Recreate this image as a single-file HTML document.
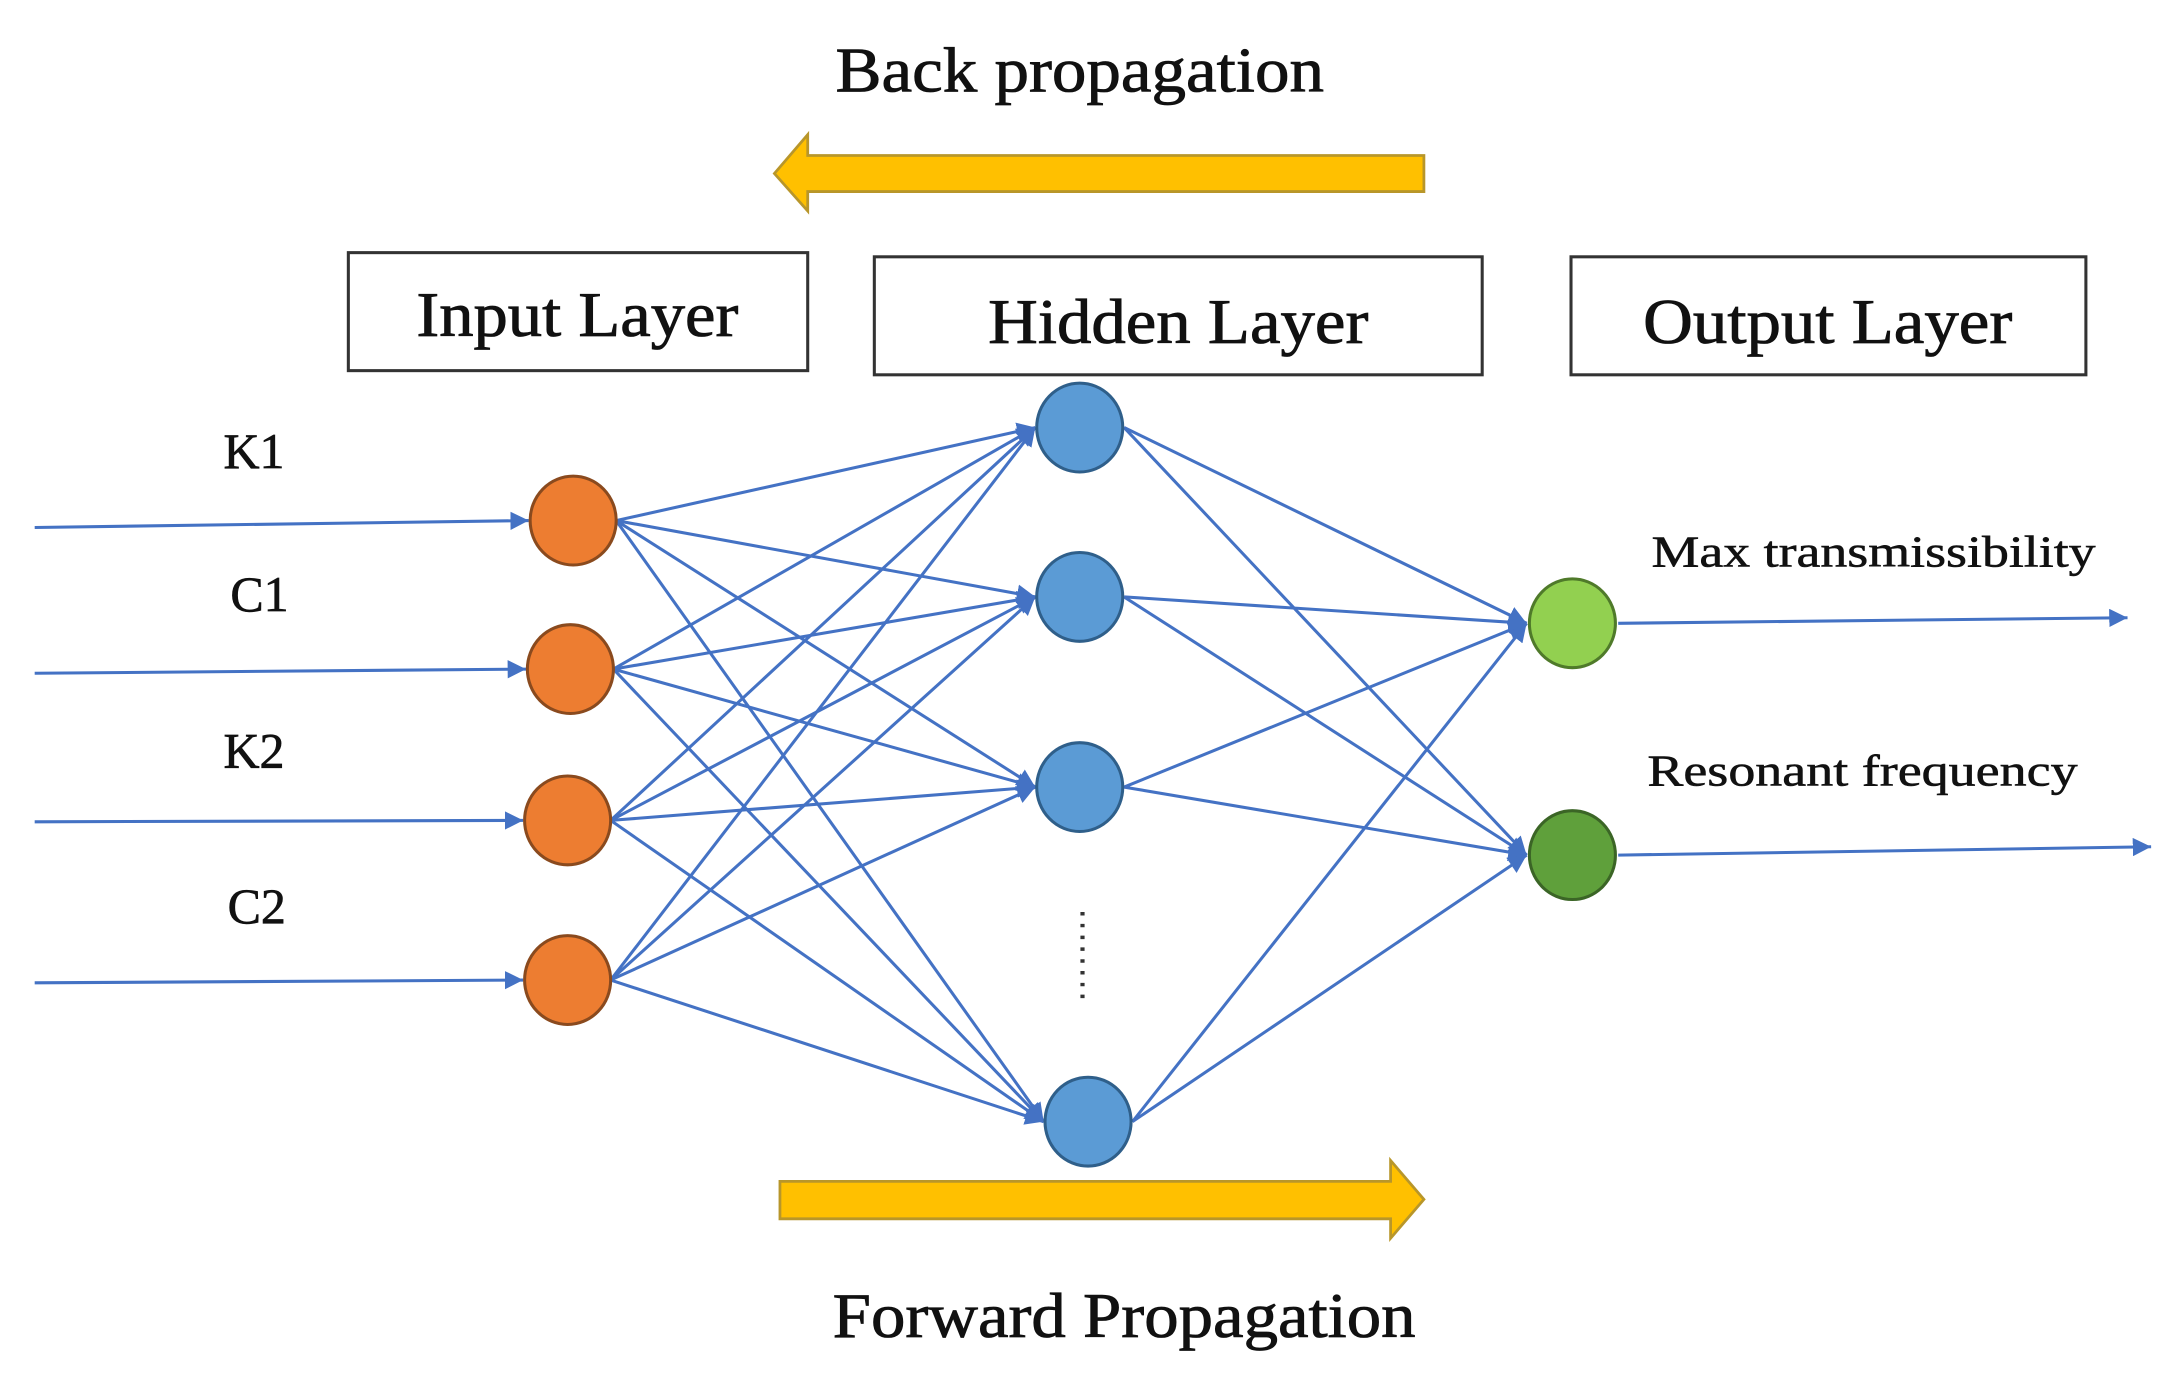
<!DOCTYPE html>
<html><head><style>html,body{margin:0;padding:0;background:#fff;overflow:hidden}svg{display:block}</style></head>
<body>
<svg width="2165" height="1384" viewBox="0 0 1560 997" preserveAspectRatio="none" xmlns="http://www.w3.org/2000/svg">
<defs>
<marker id="a" viewBox="0 0 10 10" refX="10" refY="5" markerWidth="6" markerHeight="6" orient="auto" markerUnits="strokeWidth">
<path d="M0,0 L10,5 L0,10 z" fill="#4472c4"/></marker>
</defs>
<rect width="1560" height="997" fill="#fff"/>
<g font-family="Liberation Serif, serif" fill="#111" stroke="#111" stroke-width="0.6">
<text x="778" y="66" font-size="46" text-anchor="middle" textLength="352" lengthAdjust="spacingAndGlyphs">Back propagation</text>
<text x="810" y="963" font-size="46" text-anchor="middle" textLength="420" lengthAdjust="spacingAndGlyphs">Forward Propagation</text>
</g>
<path d="M558,125 L582,97 L582,112 L1026,112 L1026,138 L582,138 L582,152 Z" fill="#ffc000" stroke="#b8962a" stroke-width="2"/>
<path d="M562,851 L1002,851 L1002,836 L1026,864 L1002,892 L1002,878 L562,878 Z" fill="#ffc000" stroke="#b8962a" stroke-width="2"/>
<g fill="#fff" stroke="#333" stroke-width="2.2">
<rect x="251" y="182" width="331" height="85"/>
<rect x="630" y="185" width="438" height="85"/>
<rect x="1132" y="185" width="371" height="85"/>
</g>
<g font-family="Liberation Serif, serif" fill="#111" stroke="#111" stroke-width="0.6" font-size="46" text-anchor="middle">
<text x="416" y="242" textLength="232" lengthAdjust="spacingAndGlyphs">Input Layer</text>
<text x="849" y="247" textLength="274" lengthAdjust="spacingAndGlyphs">Hidden Layer</text>
<text x="1317" y="247" textLength="266" lengthAdjust="spacingAndGlyphs">Output Layer</text>
</g>
<g font-family="Liberation Serif, serif" fill="#111" stroke="#111" stroke-width="0.5" font-size="36" text-anchor="middle">
<text x="183" y="337">K1</text>
<text x="187" y="440">C1</text>
<text x="183" y="553">K2</text>
<text x="185" y="665">C2</text>
</g>
<g font-family="Liberation Serif, serif" fill="#111" stroke="#111" stroke-width="0.4" font-size="32">
<text x="1190" y="408" textLength="320" lengthAdjust="spacingAndGlyphs">Max transmissibility</text>
<text x="1187" y="566" textLength="310" lengthAdjust="spacingAndGlyphs">Resonant frequency</text>
</g>
<g stroke="#4472c4" stroke-width="2.2" fill="none" marker-end="url(#a)">
<line x1="25" y1="380" x2="381" y2="375"/>
<line x1="25" y1="485" x2="379" y2="482"/>
<line x1="25" y1="592" x2="377" y2="591"/>
<line x1="25" y1="708" x2="377" y2="706"/>
<line x1="1166" y1="449" x2="1533" y2="445"/>
<line x1="1166" y1="616" x2="1550" y2="610"/>
<line x1="444" y1="375" x2="746" y2="308"/>
<line x1="444" y1="375" x2="746" y2="430"/>
<line x1="444" y1="375" x2="746" y2="567"/>
<line x1="444" y1="375" x2="752" y2="808"/>
<line x1="442" y1="482" x2="746" y2="308"/>
<line x1="442" y1="482" x2="746" y2="430"/>
<line x1="442" y1="482" x2="746" y2="567"/>
<line x1="442" y1="482" x2="752" y2="808"/>
<line x1="440" y1="591" x2="746" y2="308"/>
<line x1="440" y1="591" x2="746" y2="430"/>
<line x1="440" y1="591" x2="746" y2="567"/>
<line x1="440" y1="591" x2="752" y2="808"/>
<line x1="440" y1="706" x2="746" y2="308"/>
<line x1="440" y1="706" x2="746" y2="430"/>
<line x1="440" y1="706" x2="746" y2="567"/>
<line x1="440" y1="706" x2="752" y2="808"/>
<line x1="810" y1="308" x2="1100" y2="449"/>
<line x1="810" y1="308" x2="1100" y2="616"/>
<line x1="810" y1="430" x2="1100" y2="449"/>
<line x1="810" y1="430" x2="1100" y2="616"/>
<line x1="810" y1="567" x2="1100" y2="449"/>
<line x1="810" y1="567" x2="1100" y2="616"/>
<line x1="816" y1="808" x2="1100" y2="449"/>
<line x1="816" y1="808" x2="1100" y2="616"/>
</g>
<g stroke-width="2.2">
<ellipse cx="413" cy="375" rx="31" ry="32" fill="#ed7d31" stroke="#8a4a1e"/>
<ellipse cx="411" cy="482" rx="31" ry="32" fill="#ed7d31" stroke="#8a4a1e"/>
<ellipse cx="409" cy="591" rx="31" ry="32" fill="#ed7d31" stroke="#8a4a1e"/>
<ellipse cx="409" cy="706" rx="31" ry="32" fill="#ed7d31" stroke="#8a4a1e"/>
<ellipse cx="778" cy="308" rx="31" ry="32" fill="#5b9bd5" stroke="#2f5f8a"/>
<ellipse cx="778" cy="430" rx="31" ry="32" fill="#5b9bd5" stroke="#2f5f8a"/>
<ellipse cx="778" cy="567" rx="31" ry="32" fill="#5b9bd5" stroke="#2f5f8a"/>
<ellipse cx="784" cy="808" rx="31" ry="32" fill="#5b9bd5" stroke="#2f5f8a"/>
<ellipse cx="1133" cy="449" rx="31" ry="32" fill="#92d050" stroke="#4f7a2a"/>
<ellipse cx="1133" cy="616" rx="31" ry="32" fill="#5fa03b" stroke="#3b6526"/>
</g>
<line x1="780" y1="657" x2="780" y2="722" stroke="#333" stroke-width="3" stroke-dasharray="2.5,6"/>
</svg>
</body></html>
